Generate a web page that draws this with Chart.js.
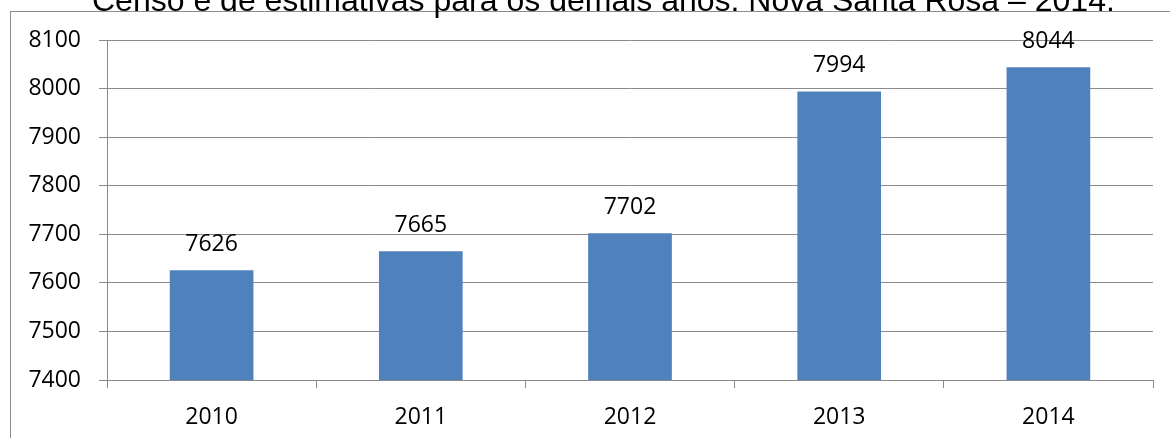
<!DOCTYPE html>
<html>
<head>
<meta charset="utf-8">
<script src="https://cdn.jsdelivr.net/npm/chart.js@4"></script>
<style>
  body { margin: 0; background: #fff; }
  #wrap { position: relative; width: 1170px; height: 438px; overflow: hidden; background: #fff; }
  #frame { position: absolute; left: 10px; top: 11px; width: 1300px; height: 600px; border: 1px solid #8c8c8c; }
  #title { position: absolute; left: 92px; top: -16px; font: 32px/32px "Liberation Sans", Arial, sans-serif; color: #000; white-space: nowrap; }
  #chart { position: absolute; left: 0; top: 0; }
</style>
</head>
<body>
<div id="wrap">
  <div id="frame"></div>
  <canvas id="chart" width="1170" height="438"></canvas>
  <div id="title">Censo e de estimativas para os demais anos. Nova Santa Rosa – 2014.</div>
</div>
<script>
// data
const years = ['2010', '2011', '2012', '2013', '2014'];
const population = [7626, 7665, 7702, 7994, 8044];
const yMin = 7400;
const yMax = 8100;
const yStep = 100;

const gray = '#8a8a8a';
const tickFont = { family: '"Open Sans", sans-serif', size: 23 };

// draws the value above each bar
const valueLabels = {
  id: 'valueLabels',
  afterDatasetsDraw(chart) {
    const ctx = chart.ctx;
    ctx.save();
    ctx.font = '23px "Open Sans", sans-serif';
    ctx.fillStyle = '#000';
    ctx.textAlign = 'center';
    ctx.textBaseline = 'alphabetic';
    chart.getDatasetMeta(0).data.forEach((bar, i) => {
      ctx.fillText(chart.data.datasets[0].data[i], bar.x, bar.y - 19);
    });
    ctx.restore();
  }
};

new Chart('chart', {
  type: 'bar',
  data: {
    labels: years,
    datasets: [{
      data: population,
      backgroundColor: '#4f81bd',
      barPercentage: 0.4,
      categoryPercentage: 1
    }]
  },
  options: {
    responsive: false,
    animation: false,
    devicePixelRatio: 1,
    layout: { padding: { left: 0, top: 40, right: 17, bottom: 0 } },
    plugins: {
      legend: { display: false },
      tooltip: { enabled: false }
    },
    scales: {
      x: {
        grid: { drawOnChartArea: false, color: gray, tickLength: 8 },
        border: { color: gray },
        ticks: { color: '#000', font: tickFont, padding: 16 },
        afterFit(scale) { scale.height = 58; }
      },
      y: {
        min: yMin,
        max: yMax,
        ticks: { stepSize: yStep, color: '#000', font: tickFont, padding: 18, callback: v => String(v) },
        grid: { color: gray, tickLength: 8 },
        border: { color: gray },
        afterFit(scale) { scale.width = 107; }
      }
    }
  },
  plugins: [valueLabels]
});
</script>
</body>
</html>
